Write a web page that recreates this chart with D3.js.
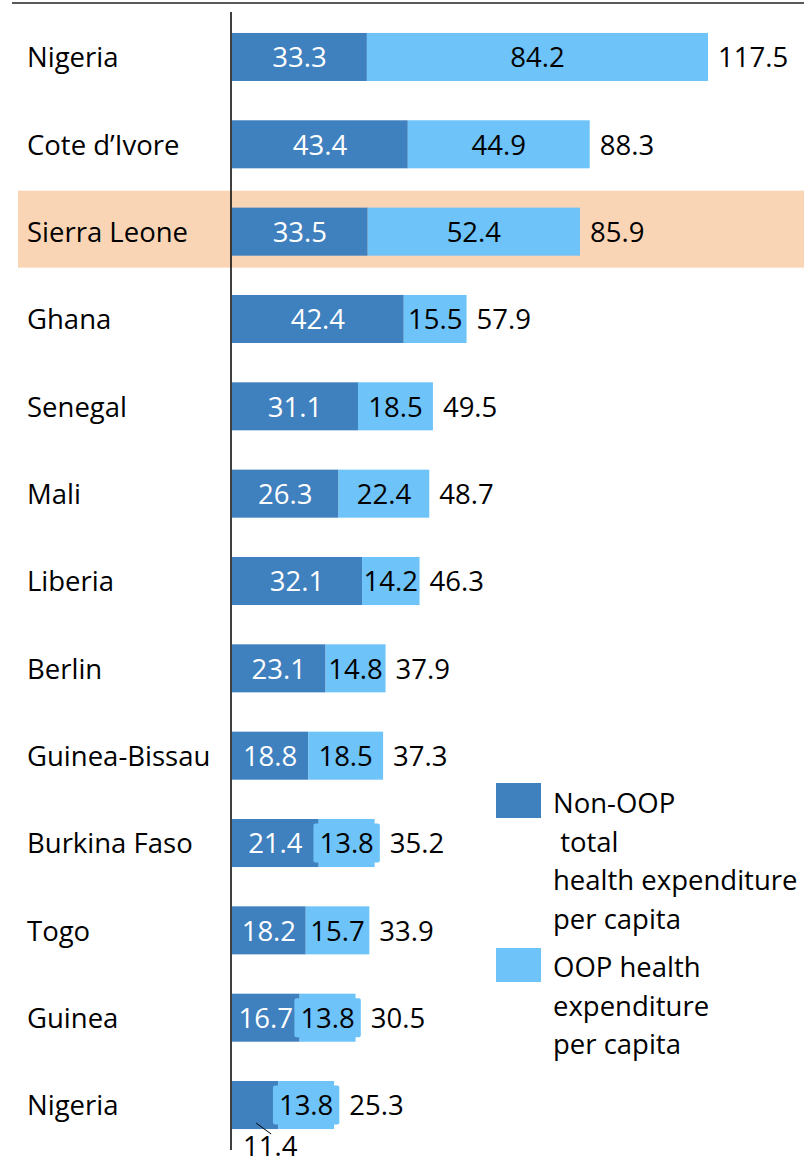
<!DOCTYPE html>
<html><head><meta charset="utf-8">
<script src="https://cdn.jsdelivr.net/npm/d3@7"></script>
<style>
body{margin:0;background:#fff;}
svg{display:block;font-family:"Open Sans",sans-serif;}
</style></head>
<body><svg id="c" width="804" height="1165"></svg>
<script>
const categories = ["Nigeria","Cote d’Ivore","Sierra Leone","Ghana","Senegal","Mali","Liberia","Berlin","Guinea-Bissau","Burkina Faso","Togo","Guinea","Nigeria"];
const nonOop = [33.3,43.4,33.5,42.4,31.1,26.3,32.1,23.1,18.8,21.4,18.2,16.7,11.4];
const oop = [84.2,44.9,52.4,15.5,18.5,22.4,14.2,14.8,18.5,13.8,15.7,13.8,13.8];
const totals = [117.5,88.3,85.9,57.9,49.5,48.7,46.3,37.9,37.3,35.2,33.9,30.5,25.3];
const highlight = "Sierra Leone";
const legendNonOop = ["Non-OOP"," total","health expenditure","per capita"];
const legendOop = ["OOP health","expenditure","per capita"];

const DARK="#3F80BF", LIGHT="#6EC3F8", PEACH="#FAD5B5";
const FS=27.5;
const svg=d3.select("#c");
const x=d3.scaleLinear().domain([0,117.5]).range([232,708]);
const y=d3.scaleBand().domain(d3.range(categories.length)).range([13.3,1148.7]).paddingInner(0.45).paddingOuter(0.225);

// top rule
svg.append("line").attr("x1",12).attr("x2",804).attr("y1",3).attr("y2",3).attr("stroke","#595959").attr("stroke-width",2);

// highlight band
const hi=categories.indexOf(highlight);
const yc=i=>y(i)+y.bandwidth()/2;
svg.append("rect").attr("x",18).attr("width",786).attr("y",yc(hi)-41).attr("height",77).attr("fill",PEACH);

const rows=categories.map((c,i)=>({c,i,a:nonOop[i],b:oop[i],t:totals[i]}));
const g=svg.append("g");
// bars
g.selectAll("rect.d").data(rows).join("rect").attr("x",x(0)).attr("y",d=>y(d.i)).attr("height",y.bandwidth())
 .attr("width",d=>x(d.a)-x(0)).attr("fill",DARK);
g.selectAll("rect.l").data(rows).join("rect").attr("x",d=>x(d.a)).attr("y",d=>y(d.i)).attr("height",y.bandwidth())
 .attr("width",d=>x(d.a+d.b)-x(d.a)).attr("fill",LIGHT);

const DY="0.38em";
// category labels
svg.selectAll("text.cat").data(rows).join("text").attr("x",27).attr("y",d=>yc(d.i)).attr("dy",DY)
 .attr("font-size",FS).attr("fill","#000").text(d=>d.c);

// dark labels
rows.forEach(d=>{
  if(d.i===categories.length-1){
    svg.append("line").attr("x1",x(d.a)-22).attr("y1",y(d.i)+y.bandwidth()-6).attr("x2",x(d.a)-7).attr("y2",y(d.i)+y.bandwidth()+5).attr("stroke","#000").attr("stroke-width",1);
    svg.append("text").attr("x",243).attr("y",1156).attr("font-size",FS).attr("fill","#000").text(d.a.toFixed(1));
  } else {
    svg.append("text").attr("x",(x(0)+x(d.a))/2).attr("y",yc(d.i)).attr("dy",DY).attr("text-anchor","middle")
      .attr("font-size",FS).attr("fill","#fff").text(d.a.toFixed(1));
  }
});
// light labels with boxes
rows.forEach(d=>{
  const cx=(x(d.a)+x(d.a+d.b))/2;
  const t=svg.append("text").attr("x",cx).attr("y",yc(d.i)).attr("dy",DY).attr("text-anchor","middle")
    .attr("font-size",FS).attr("fill","#000").text(d.b.toFixed(1));
  const w=t.node().getComputedTextLength();
  const bw=w+12;
  const segW=x(d.a+d.b)-x(d.a);
  let boxEnd=x(d.a+d.b);
  if(segW<w+3){
    svg.insert("rect",()=>t.node()).attr("x",cx-bw/2).attr("y",yc(d.i)-19.5).attr("width",bw).attr("height",39).attr("rx",2).attr("fill",LIGHT);
    boxEnd=cx+bw/2;
  }
  svg.append("text").attr("x",Math.max(boxEnd,x(d.a+d.b))+10).attr("y",yc(d.i)).attr("dy",DY)
    .attr("font-size",FS).attr("fill","#000").text(d.t.toFixed(1));
});

// axis line
svg.append("line").attr("x1",231).attr("x2",231).attr("y1",12).attr("y2",1150).attr("stroke","#000").attr("stroke-width",1.5);

// legend
const lg=svg.append("g");
lg.append("rect").attr("x",496).attr("y",783).attr("width",45).attr("height",35).attr("fill",DARK);
lg.append("rect").attr("x",496).attr("y",948).attr("width",45).attr("height",34).attr("fill",LIGHT);
legendNonOop.forEach((s,i)=>lg.append("text").attr("x",553).attr("y",813+i*38.5).attr("font-size",FS).style("white-space","pre").text(s));
legendOop.forEach((s,i)=>lg.append("text").attr("x",553).attr("y",977+i*38.5).attr("font-size",FS).style("white-space","pre").text(s));
</script></body></html>
